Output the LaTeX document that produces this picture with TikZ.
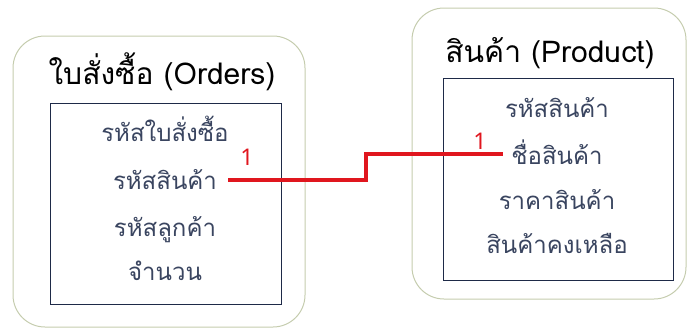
\documentclass[tikz,border=0pt]{standalone}
\usepackage{fontspec}
\newfontfamily\thaifont[Script=Thai]{Loma}
\newfontfamily\numfont{Noto Sans}
\definecolor{outerc}{HTML}{C5CCAE}
\definecolor{innerc}{HTML}{1E2A48}
\definecolor{textc}{HTML}{3A4560}
\definecolor{linkred}{HTML}{E0161E}
\tikzset{
  outerbox/.style={draw=outerc, line width=1pt, rounded corners=32pt},
  innerbox/.style={draw=innerc, line width=1pt},
  title/.style={font=\thaifont\fontsize{30}{34}\selectfont, text=black, anchor=base, inner sep=0pt},
  field/.style={font=\thaifont\fontsize{24}{28}\selectfont, text=textc, anchor=base, inner sep=0pt},
  card/.style={font=\numfont\fontsize{23}{26}\selectfont, text=linkred, inner sep=0pt},
  link/.style={draw=linkred, line width=3.8pt}
}
\begin{document}
\begin{tikzpicture}[x=1pt,y=-1pt]
\useasboundingbox (0,0) rectangle (695,330);
% Orders
\draw[outerbox] (13,36) rectangle (305,327);
\draw[innerbox] (50,103) rectangle (281,304);
\node[title] (ot) at (162,84) {ใบสั่งซื้อ (Orders)};
\node[field] (o1) at (165,141) {รหัสใบสั่งซื้อ};
\node[field] (o2) at (165,189) {รหัสสินค้า};
\node[field] (o3) at (165,236) {รหัสลูกค้า};
\node[field] (o4) at (165,280) {จำนวน};
% Product
\draw[outerbox] (412,8) rectangle (686,299);
\draw[innerbox] (443,78) rectangle (673,280);
\node[title] (pt) at (550,62) {สินค้า (Product)};
\node[field] (p1) at (557,117) {รหัสสินค้า};
\node[field] (p2) at (557,164) {ชื่อสินค้า};
\node[field] (p3) at (557,209) {ราคาสินค้า};
\node[field] (p4) at (557,253) {สินค้าคงเหลือ};
% link
\coordinate (oa) at (228,180);
\coordinate (pa) at (503,154);
\coordinate (bend) at (366,167);
\draw[link] (oa) -| (bend) |- (pa);
\node[card] (c1) at (247,157) {1};
\node[card] (c2) at (480,141) {1};
\end{tikzpicture}
\end{document}
